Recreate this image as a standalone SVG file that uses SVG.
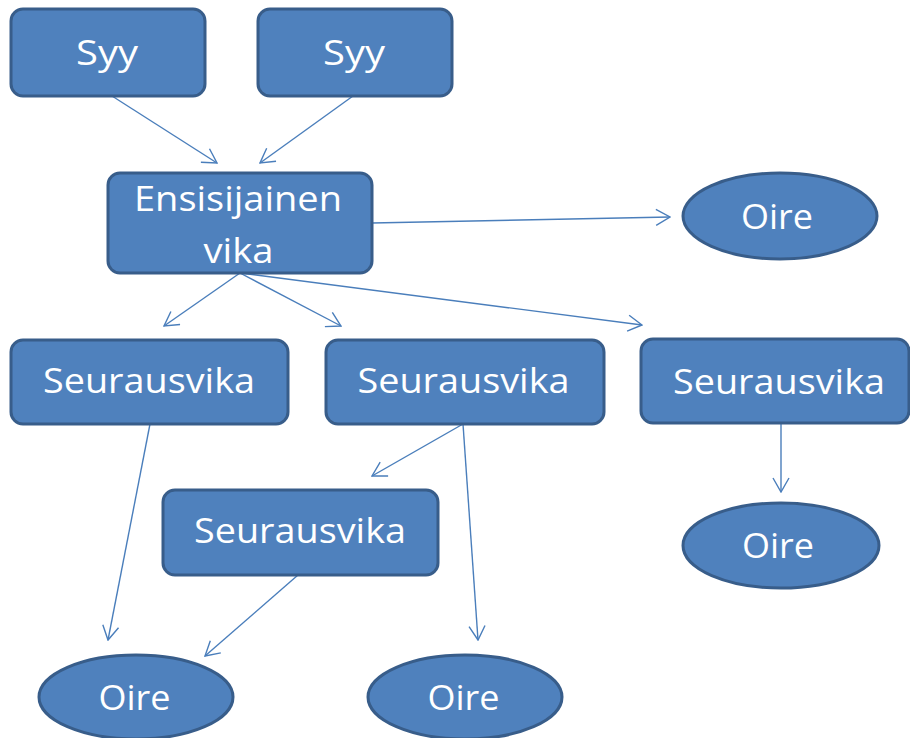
<svg xmlns="http://www.w3.org/2000/svg" width="910" height="738" viewBox="0 0 910 738">
  <style>
    .box { fill: #4f81bd; stroke: #385d8a; stroke-width: 3; }
    .lbl { fill: #ffffff; font-family: "Open Sans", "Liberation Sans", sans-serif; font-size: 35px; text-anchor: middle; }
    .edge { fill: none; stroke: #4a7ebb; stroke-width: 1.4; marker-end: url(#arrow); }
  </style>
  <defs>
    <marker id="arrow" viewBox="0 0 16 18" refX="15" refY="9" markerWidth="16" markerHeight="18" markerUnits="userSpaceOnUse" orient="auto">
      <path d="M1,1 L15,9 L1,17" fill="none" stroke="#4a7ebb" stroke-width="1.4"/>
    </marker>
  </defs>
  <rect width="910" height="738" fill="#ffffff"/>

  <g id="connectors">
    <line class="edge" x1="112" y1="96" x2="217" y2="163"/>
    <line class="edge" x1="353" y1="96" x2="260" y2="163"/>
    <line class="edge" x1="372" y1="223" x2="670" y2="217"/>
    <line class="edge" x1="240" y1="273" x2="164" y2="326"/>
    <line class="edge" x1="240" y1="273" x2="341" y2="326"/>
    <line class="edge" x1="240" y1="273" x2="642" y2="325"/>
    <line class="edge" x1="150" y1="424" x2="108" y2="640"/>
    <line class="edge" x1="463" y1="424" x2="372" y2="476"/>
    <line class="edge" x1="463" y1="424" x2="478" y2="640"/>
    <line class="edge" x1="298" y1="575" x2="205" y2="656"/>
    <line class="edge" x1="781" y1="423" x2="781" y2="492"/>
  </g>

  <g id="syy1">
    <rect class="box" x="11" y="9" width="194" height="87" rx="12"/>
    <text class="lbl" x="107" y="65" textLength="62" lengthAdjust="spacingAndGlyphs">Syy</text>
  </g>
  <g id="syy2">
    <rect class="box" x="258" y="9" width="194" height="87" rx="12"/>
    <text class="lbl" x="354" y="65" textLength="62" lengthAdjust="spacingAndGlyphs">Syy</text>
  </g>
  <g id="ensisijainen-vika">
    <rect class="box" x="108" y="173" width="264" height="100" rx="12"/>
    <text class="lbl" x="238" y="211" textLength="208" lengthAdjust="spacingAndGlyphs">Ensisijainen</text>
    <text class="lbl" x="238.5" y="263" textLength="70" lengthAdjust="spacingAndGlyphs">vika</text>
  </g>
  <g id="oire-top">
    <ellipse class="box" cx="780" cy="216" rx="97" ry="43"/>
    <text class="lbl" x="777" y="229" textLength="72" lengthAdjust="spacingAndGlyphs">Oire</text>
  </g>
  <g id="seurausvika1">
    <rect class="box" x="11" y="340" width="277" height="84" rx="12"/>
    <text class="lbl" x="149" y="393" textLength="212" lengthAdjust="spacingAndGlyphs">Seurausvika</text>
  </g>
  <g id="seurausvika2">
    <rect class="box" x="326" y="340" width="278" height="84" rx="12"/>
    <text class="lbl" x="463.5" y="393" textLength="212" lengthAdjust="spacingAndGlyphs">Seurausvika</text>
  </g>
  <g id="seurausvika3">
    <rect class="box" x="641" y="339" width="268" height="84" rx="12"/>
    <text class="lbl" x="779" y="394" textLength="212" lengthAdjust="spacingAndGlyphs">Seurausvika</text>
  </g>
  <g id="seurausvika4">
    <rect class="box" x="163" y="490" width="275" height="85" rx="12"/>
    <text class="lbl" x="300" y="543" textLength="212" lengthAdjust="spacingAndGlyphs">Seurausvika</text>
  </g>
  <g id="oire-right">
    <ellipse class="box" cx="781" cy="545.5" rx="98" ry="42.5"/>
    <text class="lbl" x="778" y="558" textLength="72" lengthAdjust="spacingAndGlyphs">Oire</text>
  </g>
  <g id="oire-left">
    <ellipse class="box" cx="136" cy="697" rx="97" ry="42"/>
    <text class="lbl" x="134.5" y="710" textLength="72" lengthAdjust="spacingAndGlyphs">Oire</text>
  </g>
  <g id="oire-middle">
    <ellipse class="box" cx="465" cy="697" rx="97" ry="42"/>
    <text class="lbl" x="463.5" y="710" textLength="72" lengthAdjust="spacingAndGlyphs">Oire</text>
  </g>
</svg>
